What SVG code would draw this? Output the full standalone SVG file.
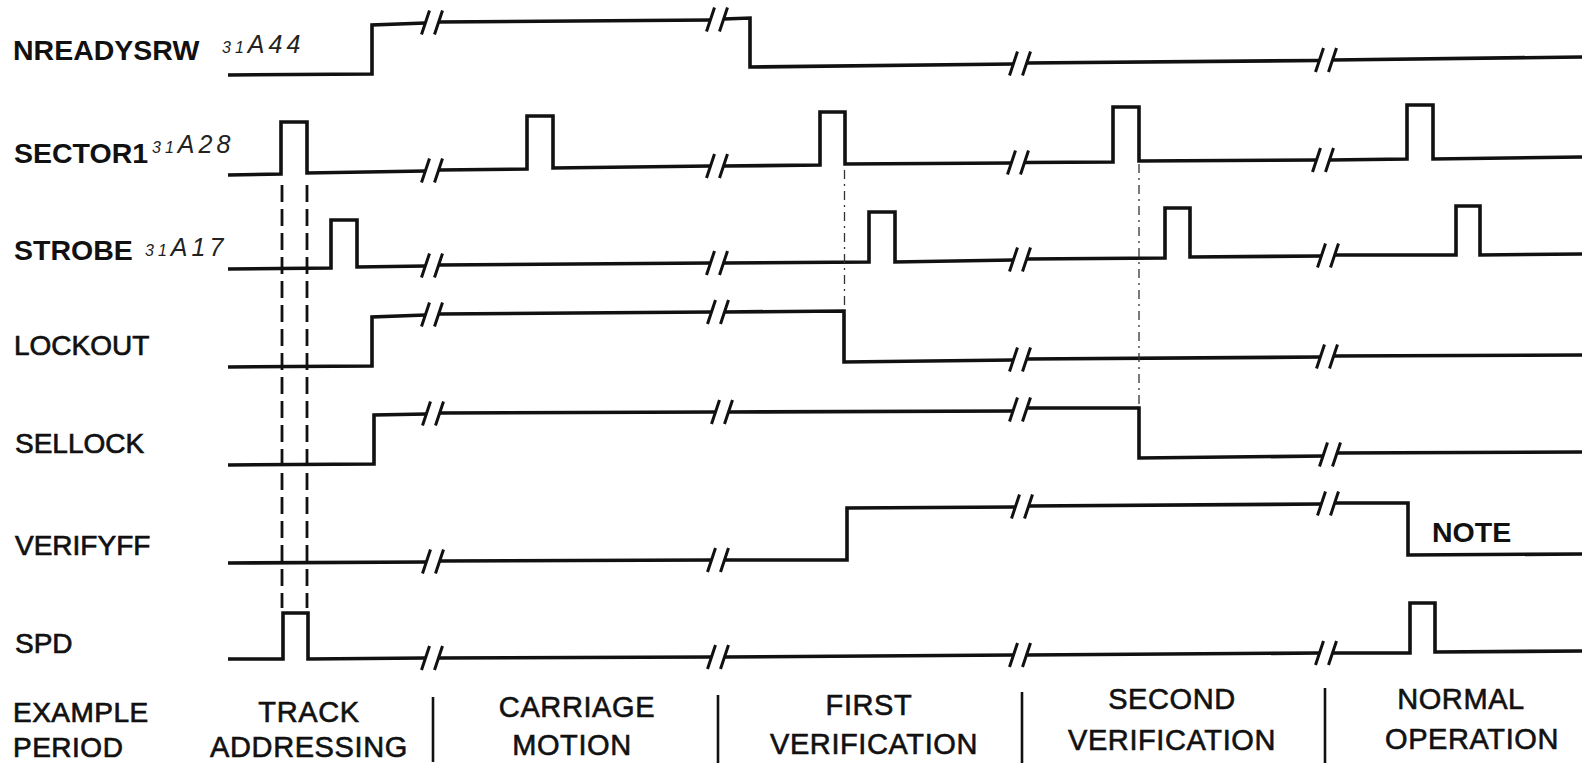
<svg xmlns="http://www.w3.org/2000/svg" xmlns:xlink="http://www.w3.org/1999/xlink" width="1585" height="763" viewBox="0 0 1585 763">
<style>
.w{fill:none;stroke:#111;stroke-width:3.6;stroke-linejoin:miter;stroke-linecap:butt}
.lb{font-family:"Liberation Sans",Arial,sans-serif;font-size:28px;fill:#111}
.b{font-weight:bold;font-size:28.5px}
.r{stroke:#111;stroke-width:0.7}
.hw{font-family:"Liberation Sans",Arial,sans-serif;font-style:italic;fill:#222;font-size:25px;letter-spacing:4px}
.pl{font-family:"Liberation Sans",Arial,sans-serif;font-size:29px;fill:#111;stroke:#111;stroke-width:0.6;text-anchor:middle;letter-spacing:0.6px}
.sep{stroke:#111;stroke-width:2.6}
.dash{stroke:#111;stroke-width:2.8;stroke-dasharray:17 7;fill:none}
.dd{stroke:#333;stroke-width:1.3;stroke-dasharray:9 5 2 5;fill:none}
.bk{fill:none;stroke:#111;stroke-width:3}
</style>
<defs>
<path id="brk" d="M-10.5,12 L-2.5,-12 M2.5,12 L10.5,-12"/>
</defs>

<g id="nreadysrw">
<text class="lb b" x="13" y="60">NREADYSRW</text>
<text class="hw" x="222" y="53"><tspan font-size="16">31</tspan>A44</text>
<path class="w" d="M228,75 L372,74 L372,25 L425.5,23 M438.5,22 L710.5,20 M723.5,19 L750,18 L750,67 L1013.5,64 M1026.5,63 L1319.5,60.5 M1332.5,60 L1582,57"/>
<g class="bk"><use xlink:href="#brk" x="432" y="22.5"/><use xlink:href="#brk" x="717" y="19.5"/><use xlink:href="#brk" x="1020" y="63.5"/><use xlink:href="#brk" x="1326" y="60"/></g>
</g>

<g id="sector1">
<text class="lb b" x="14" y="163">SECTOR1</text>
<text class="hw" x="152" y="153"><tspan font-size="16">31</tspan>A28</text>
<path class="w" d="M228,175 L281,174 L281,122 L307,122 L307,173 L425.5,171 M438.5,170 L527,169 L527,116 L553,116 L553,168 L710.5,166 M723.5,166 L820,165 L820,112 L845,112 L845,164 L1011.5,163 M1024.5,162.5 L1113,162 L1113,107 L1139,107 L1139,161 L1316.5,160 M1329.5,160 L1407,159 L1407,105 L1433,105 L1433,159 L1582,157"/>
<g class="bk"><use xlink:href="#brk" x="432" y="170.5"/><use xlink:href="#brk" x="717" y="166"/><use xlink:href="#brk" x="1018" y="162.5"/><use xlink:href="#brk" x="1323" y="160"/></g>
</g>

<g id="strobe">
<text class="lb b" x="14" y="260">STROBE</text>
<text class="hw" x="145" y="256"><tspan font-size="16">31</tspan>A17</text>
<path class="w" d="M228,269 L331,268 L331,220 L357,220 L357,267 L425.5,266 M438.5,265 L710.5,263 M723.5,263 L869,262 L869,212 L895,212 L895,262 L1013.5,260 M1026.5,259 L1165,258 L1165,208 L1190,208 L1190,257 L1321.5,256 M1334.5,255 L1456,255 L1456,206 L1480,206 L1480,255 L1582,254"/>
<g class="bk"><use xlink:href="#brk" x="432" y="265.5"/><use xlink:href="#brk" x="717" y="263"/><use xlink:href="#brk" x="1020" y="259.5"/><use xlink:href="#brk" x="1328" y="255.5"/></g>
</g>

<g id="lockout">
<text class="lb r" x="14" y="355">LOCKOUT</text>
<path class="w" d="M228,367 L372,366 L372,317 L425.5,315 M438.5,314 L711.5,312 M724.5,312 L844,311 L844,362 L1013.5,360 M1026.5,359 L1320.5,357 M1333.5,356 L1582,355"/>
<g class="bk"><use xlink:href="#brk" x="432" y="314.5"/><use xlink:href="#brk" x="718" y="312"/><use xlink:href="#brk" x="1020" y="359.5"/><use xlink:href="#brk" x="1327" y="356.5"/></g>
</g>

<g id="sellock">
<text class="lb r" x="15" y="453">SELLOCK</text>
<path class="w" d="M228,465 L374,464 L374,415 L426.5,414 M439.5,413 L715.5,412 M728.5,412 L1013.5,411 M1026.5,408 L1139,408 L1139,458 L1323.5,456 M1336.5,453 L1582,452"/>
<g class="bk"><use xlink:href="#brk" x="433" y="413.5"/><use xlink:href="#brk" x="722" y="412"/><use xlink:href="#brk" x="1020" y="409.5"/><use xlink:href="#brk" x="1330" y="454.5"/></g>
</g>

<g id="verifyff">
<text class="lb r" x="15" y="555" font-size="29">VERIFYFF</text>
<path class="w" d="M228,563 L426.5,562 M439.5,561 L711.5,560 M724.5,560 L847,560 L847,508 L1015.5,507 M1028.5,506 L1321.5,504 M1334.5,503 L1408,503 L1408,555 L1582,554"/>
<g class="bk"><use xlink:href="#brk" x="433" y="561.5"/><use xlink:href="#brk" x="718" y="560"/><use xlink:href="#brk" x="1022" y="506.5"/><use xlink:href="#brk" x="1328" y="503.5"/></g>
<text class="lb b" x="1432" y="542" font-size="27">NOTE</text>
</g>

<g id="spd">
<text class="lb r" x="15" y="653">SPD</text>
<path class="w" d="M228,659 L283,659 L283,613 L308,613 L308,659 L425.5,658 M438.5,658 L711.5,657 M724.5,657 L1013.5,655 M1026.5,655 L1319.5,653 M1332.5,653 L1410,653 L1410,603 L1435,603 L1435,652 L1582,651"/>
<g class="bk"><use xlink:href="#brk" x="432" y="658"/><use xlink:href="#brk" x="718" y="657"/><use xlink:href="#brk" x="1020" y="655"/><use xlink:href="#brk" x="1326" y="653"/></g>
</g>

<g id="connectors">
<line class="dash" x1="282" y1="185" x2="282" y2="608"/>
<line class="dash" x1="307" y1="185" x2="307" y2="608"/>
<line class="dd" x1="844.5" y1="170" x2="844.5" y2="310"/>
<line class="dd" x1="1139" y1="164" x2="1139" y2="407"/>
</g>

<g id="periods">
<text class="lb r" x="13" y="722" letter-spacing="0.5">EXAMPLE</text>
<text class="lb r" x="13" y="757" letter-spacing="0.5">PERIOD</text>
<text class="pl" x="309" y="722">TRACK</text>
<text class="pl" x="309" y="757">ADDRESSING</text>
<line class="sep" x1="433" y1="697" x2="433" y2="762"/>
<text class="pl" x="577" y="717">CARRIAGE</text>
<text class="pl" x="572" y="755">MOTION</text>
<line class="sep" x1="718" y1="695" x2="718" y2="763"/>
<text class="pl" x="869" y="715">FIRST</text>
<text class="pl" x="874" y="754">VERIFICATION</text>
<line class="sep" x1="1022" y1="692" x2="1022" y2="763"/>
<text class="pl" x="1172" y="709">SECOND</text>
<text class="pl" x="1172" y="750">VERIFICATION</text>
<line class="sep" x1="1325" y1="688" x2="1325" y2="763"/>
<text class="pl" x="1461" y="709">NORMAL</text>
<text class="pl" x="1472" y="749">OPERATION</text>
</g>
</svg>
